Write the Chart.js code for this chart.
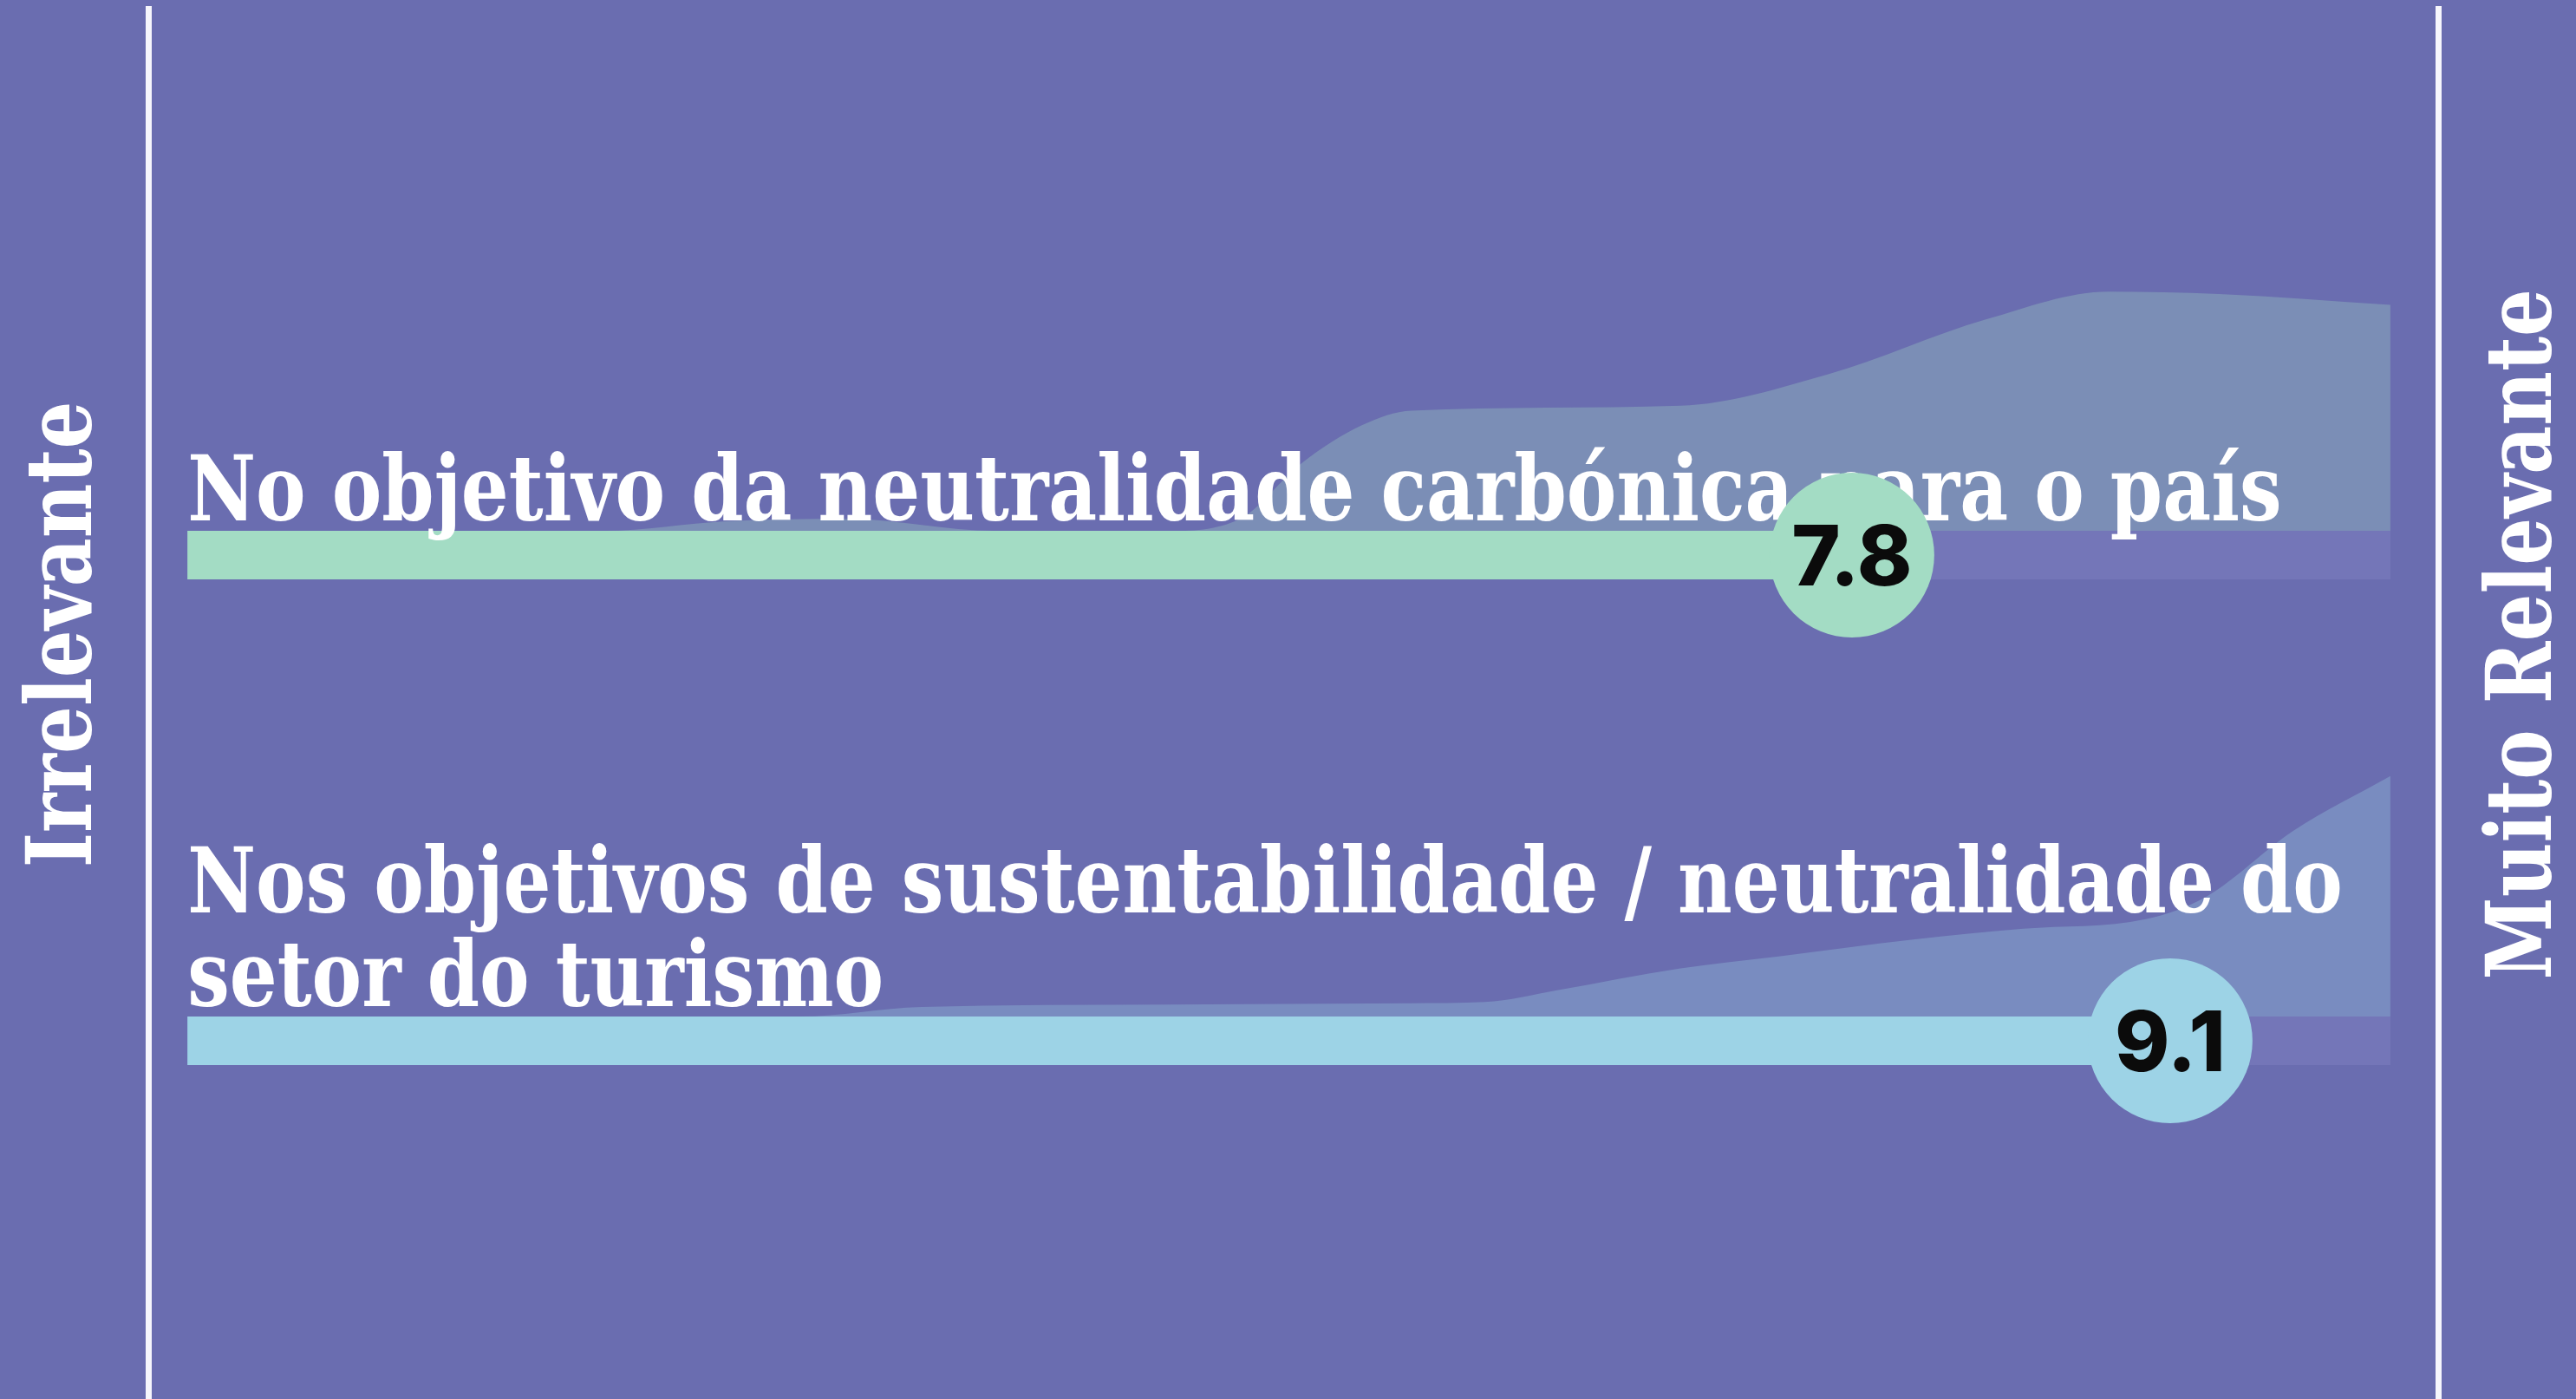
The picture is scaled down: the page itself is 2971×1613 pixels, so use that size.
<!DOCTYPE html>
<html>
<head>
<meta charset="utf-8">
<script src="https://cdn.jsdelivr.net/npm/chart.js@4.4.1/dist/chart.umd.min.js"></script>
<style>
  html, body { margin: 0; padding: 0; background: #6a6db0; }
  #wrap { position: relative; width: 2971px; height: 1613px; }
</style>
</head>
<body>
<div id="wrap"><canvas id="chart"></canvas></div>
<script>
// Relevance scale runs from 1 (Irrelevante) to 10 (Muito Relevante)
const rowLabels = [
  ['No objetivo da neutralidade carbónica para o país'],
  ['Nos objetivos de sustentabilidade / neutralidade do', 'setor do turismo']
];
const scores = [7.8, 9.1];
const lowLabel = 'Irrelevante';
const highLabel = 'Muito Relevante';

// Answer distributions behind each bar (relative height, 100 = tallest)
const countryX = [1, 2.7, 3.2, 3.7, 4.3, 5, 5.3, 5.55, 5.8, 6.0, 7.1, 7.7, 8.35, 8.85, 9.3, 10];
const countryY = [0, 0, 4, 5, 0, 0, 5, 28, 44, 50, 52, 65, 88, 99.5, 98.5, 94];
const tourismX = [1, 3.5, 4.0, 5, 6, 6.3, 6.6, 7.1, 7.5, 8.05, 8.5, 9.0, 9.25, 9.6, 10];
const tourismY = [0, 0, 4, 5, 5.5, 6, 11, 20, 25, 32, 36.5, 40.5, 50, 77, 100];

const barColors = ['#a3dcc4', '#9dd3e6'];
const areaColors = ['rgba(163, 220, 196, 0.3)', 'rgba(157, 211, 230, 0.3)'];
const trackColor = '#7476b8';

const rowPos = [1, 2];       // row centres on the y scale
const trackHalf = 0.05;      // half the bar thickness, in row units
const areaHeight = 0.495;    // height of a 100 distribution value, in row units

const labelFont = 'bold 104px "DejaVu Serif"';
const textSqueeze = 0.83;

function areaPoints(xs, ys, row) {
  const base = rowPos[row] - trackHalf;
  return xs.map((x, i) => ({ x: x, y: base - ys[i] / 100 * areaHeight }));
}

function drawSqueezed(ctx, str, x, y, rotate) {
  ctx.save();
  ctx.translate(x, y);
  if (rotate) ctx.rotate(-Math.PI / 2);
  ctx.scale(textSqueeze, 1);
  ctx.fillText(str, 0, 0);
  ctx.restore();
}

const textPlugin = {
  id: 'rowText',
  beforeDatasetDraw(chart, args) {
    if (chart.data.datasets[args.index].label !== 'scores') return;
    const ctx = chart.ctx;
    const xs = chart.scales.x;
    const ys = chart.scales.y;
    ctx.save();
    ctx.font = labelFont;
    ctx.fillStyle = '#ffffff';
    ctx.textAlign = 'left';
    ctx.textBaseline = 'alphabetic';
    rowLabels.forEach((lines, r) => {
      const left = xs.getPixelForValue(1);
      const bottom = ys.getPixelForValue(rowPos[r] - trackHalf) - 12;
      lines.forEach((line, i) => {
        const y = bottom - (lines.length - 1 - i) * 108;
        drawSqueezed(ctx, line, left, y, false);
      });
    });
    ctx.restore();
  },
  afterDatasetsDraw(chart) {
    const ctx = chart.ctx;
    const area = chart.chartArea;
    const idx = chart.data.datasets.findIndex(d => d.label === 'scores');
    const meta = chart.getDatasetMeta(idx);
    ctx.save();
    ctx.fillStyle = '#0b0b0b';
    ctx.font = '800 96px Inter';
    ctx.textAlign = 'center';
    ctx.textBaseline = 'alphabetic';
    meta.data.forEach((pt, i) => {
      ctx.fillText(scores[i].toFixed(1), pt.x, pt.y + 35);
    });

    ctx.font = labelFont;
    ctx.fillStyle = '#ffffff';
    ctx.textAlign = 'center';
    const midY = (area.top + area.bottom) / 2 - 80;
    drawSqueezed(ctx, lowLabel, area.left - 66, midY, true);
    drawSqueezed(ctx, highLabel, area.right + 130, midY, true);
    ctx.restore();
  }
};

const datasets = [];
[[countryX, countryY], [tourismX, tourismY]].forEach((pair, r) => {
  datasets.push({
    label: 'dist' + r,
    data: areaPoints(pair[0], pair[1], r),
    backgroundColor: areaColors[r],
    borderWidth: 0,
    pointRadius: 0,
    cubicInterpolationMode: 'monotone',
    fill: { value: rowPos[r] - trackHalf },
    order: 6
  });
});
rowPos.forEach((y, r) => {
  datasets.push({
    label: 'track' + r,
    data: [{ x: 1, y: y }, { x: 10, y: y }],
    borderColor: trackColor,
    borderWidth: 56,
    borderCapStyle: 'butt',
    pointRadius: 0,
    fill: false,
    order: 5
  });
  datasets.push({
    label: 'bar' + r,
    data: [{ x: 1, y: y }, { x: scores[r], y: y }],
    borderColor: barColors[r],
    borderWidth: 56,
    borderCapStyle: 'butt',
    pointRadius: 0,
    fill: false,
    order: 4
  });
});
datasets.push({
  type: 'scatter',
  label: 'scores',
  data: scores.map((s, r) => ({ x: s, y: rowPos[r] })),
  pointRadius: 95,
  pointBackgroundColor: barColors,
  pointBorderWidth: 0,
  showLine: false,
  order: 1
});

const axisBorder = { display: true, color: '#f6f6fc', width: 7 };

new Chart(document.getElementById('chart'), {
  type: 'line',
  data: { datasets: datasets },
  options: {
    responsive: true,
    maintainAspectRatio: false,
    animation: false,
    devicePixelRatio: 1,
    events: [],
    layout: {
      autoPadding: false,
      padding: { left: 171, right: 159, top: 10, bottom: 0 }
    },
    plugins: {
      legend: { display: false },
      tooltip: { enabled: false }
    },
    scales: {
      x: { type: 'linear', display: false, min: 0.84, max: 10.195 },
      y: {
        type: 'linear', position: 'left', reverse: true, min: -0.125, max: 2.7375,
        ticks: { display: false },
        grid: { display: false, drawTicks: false },
        border: axisBorder
      },
      yRight: {
        type: 'linear', position: 'right', reverse: true, min: -0.125, max: 2.7375,
        ticks: { display: false },
        grid: { display: false, drawTicks: false },
        border: axisBorder
      }
    }
  },
  plugins: [textPlugin]
});
</script>
</body>
</html>
